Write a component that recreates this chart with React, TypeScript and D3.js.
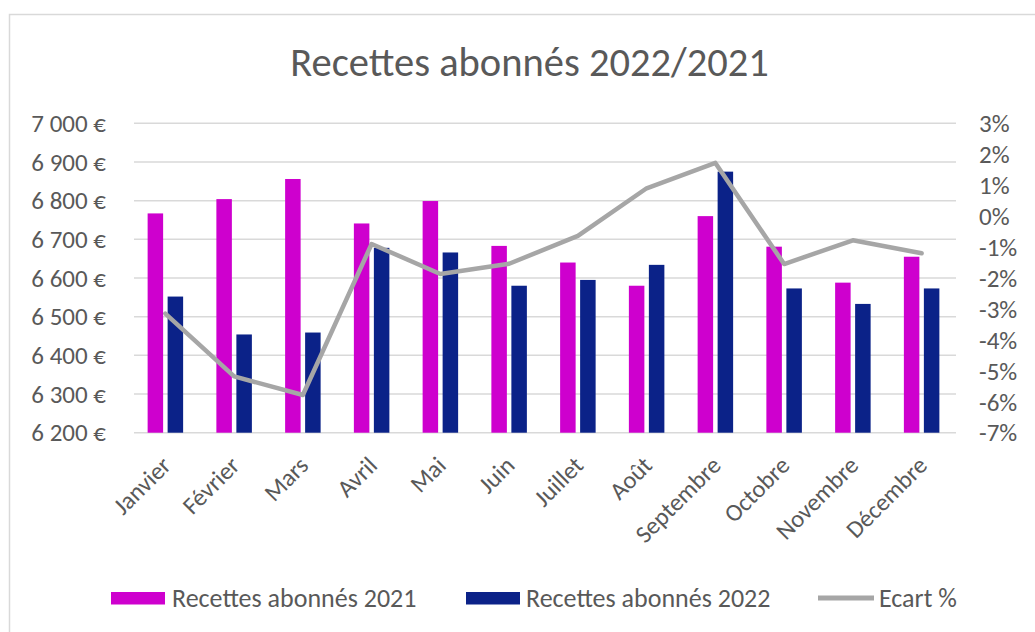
import React from "react";
import * as d3 from "d3";

const months = ["Janvier", "Février", "Mars", "Avril", "Mai", "Juin", "Juillet", "Août", "Septembre", "Octobre", "Novembre", "Décembre"];
const recettes2021 = [6767, 6804, 6856, 6741, 6799, 6683, 6640, 6580, 6760, 6681, 6588, 6655];
const recettes2022 = [6552, 6454, 6459, 6678, 6666, 6580, 6595, 6634, 6875, 6573, 6533, 6573];
const ecart = [-3.15, -5.18, -5.78, -0.9, -1.87, -1.54, -0.64, 0.9, 1.72, -1.55, -0.78, -1.2];
const leftTicks = [6200, 6300, 6400, 6500, 6600, 6700, 6800, 6900, 7000];
const rightTicks = [-7, -6, -5, -4, -3, -2, -1, 0, 1, 2, 3];
const seriesNames = ["Recettes abonnés 2021", "Recettes abonnés 2022", "Ecart %"];
const title = "Recettes abonnés 2022/2021";

const C2021 = "#CE00CE";
const C2022 = "#0B2288";
const CLINE = "#A6A6A6";
const TXT = "#595959";
const FONT = "Carlito, 'Liberation Sans', Arial, sans-serif";

const fr = d3.formatLocale({ decimal: ",", thousands: " ", grouping: [3], currency: ["", " €"], minus: "-" } as any);
const fmtEuro = (v: number) => fr.format(",.0f")(v) + " €";
const fmtPct = (v: number) => fr.format("d")(v) + "%";

export default function App() {
  const W = 1035, H = 632;
  const top = 123.3, bottom = 432.7;
  const x = d3.scaleBand<string>().domain(months).range([131, 956]);
  const yL = d3.scaleLinear().domain([6200, 7000]).range([bottom, top]);
  const yR = d3.scaleLinear().domain([-7, 3]).range([bottom, top]);
  const bw = 15.5, gap = 4.5;
  const line = d3.line<number>()
    .x((_, i) => (x(months[i]) as number) + x.bandwidth() / 2)
    .y((d) => yR(d));

  const legendY = 598;
  return (
    <svg width={W} height={H} style={{ position: "fixed", left: 0, top: 0, background: "#fff" }} fontFamily={FONT}>
      <rect x={0} y={0} width={W} height={H} fill="#fff" />
      <rect x={9.5} y={14.5} width={W} height={H} fill="#fff" stroke="#D9D9D9" strokeWidth={1.5} />
      <text x={529.5} y={76} textAnchor="middle" fontSize={40.5} fill={TXT}>{title}</text>
      {leftTicks.map((t) => (
        <g key={"g" + t}>
          <line x1={134} x2={956} y1={yL(t)} y2={yL(t)} stroke="#D9D9D9" strokeWidth={1.5} />
          <text x={106} y={yL(t)} dy="0.35em" textAnchor="end" fontSize={25} fill={TXT}>{fmtEuro(t)}</text>
        </g>
      ))}
      {rightTicks.map((t) => (
        <text key={"r" + t} x={979} y={yR(t)} dy="0.35em" textAnchor="start" fontSize={25} fill={TXT}>{fmtPct(t)}</text>
      ))}
      {months.map((m, i) => {
        const cx = (x(m) as number) + x.bandwidth() / 2;
        return (
          <g key={m}>
            <rect x={cx - gap / 2 - bw} y={yL(recettes2021[i])} width={bw} height={bottom - yL(recettes2021[i])} fill={C2021} />
            <rect x={cx + gap / 2} y={yL(recettes2022[i])} width={bw} height={bottom - yL(recettes2022[i])} fill={C2022} />
            <text transform={`translate(${cx + 7},${467}) rotate(-45)`} textAnchor="end" fontSize={24.5} fill={TXT}>{m}</text>
          </g>
        );
      })}
      <path d={line(ecart) || ""} fill="none" stroke={CLINE} strokeWidth={4.5} strokeLinejoin="round" strokeLinecap="round" />
      <rect x={111} y={legendY - 6} width={54} height={12.5} fill={C2021} />
      <text x={172} y={legendY} dy="0.35em" fontSize={26} fill={TXT}>{seriesNames[0]}</text>
      <rect x={466} y={legendY - 6} width={54} height={12.5} fill={C2022} />
      <text x={526} y={legendY} dy="0.35em" fontSize={26} fill={TXT}>{seriesNames[1]}</text>
      <line x1={818} x2={874} y1={legendY} y2={legendY} stroke={CLINE} strokeWidth={5} />
      <text x={879} y={legendY} dy="0.35em" fontSize={26} fill={TXT}>{seriesNames[2]}</text>
    </svg>
  );
}
